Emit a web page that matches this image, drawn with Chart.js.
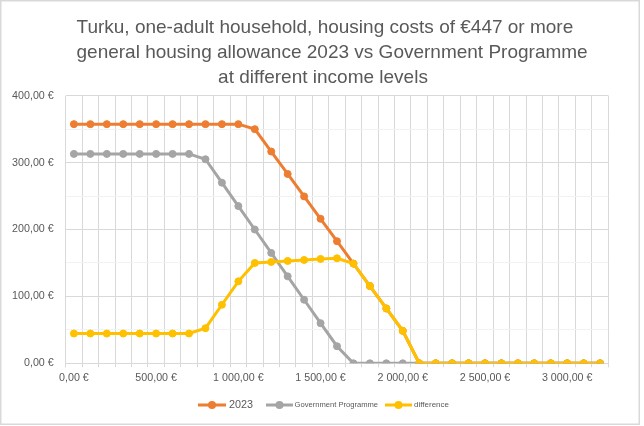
<!DOCTYPE html>
<html>
<head>
<meta charset="utf-8">
<script src="https://cdn.jsdelivr.net/npm/chart.js@4.4.1/dist/chart.umd.min.js"></script>
<style>
  html, body { margin: 0; padding: 0; background: #fff; }
  #wrap { position: relative; width: 644px; height: 426px; }
</style>
</head>
<body>
<div id="wrap"><canvas id="chart"></canvas></div>
<script>
const incomes = [0, 100, 200, 300, 400, 500, 600, 700, 800, 900, 1000, 1100, 1200, 1300, 1400, 1500, 1600,
  1700, 1800, 1900, 2000, 2100, 2200, 2300, 2400, 2500, 2600, 2700, 2800, 2900, 3000, 3100, 3200];
const allowance2023 = [357.5, 357.5, 357.5, 357.5, 357.5, 357.5, 357.5, 357.5, 357.5, 357.5, 357.5, 350, 316.5,
  283, 249.5, 216, 182.5, 149, 115.5, 82, 48.5, 0, 0, 0, 0, 0, 0, 0, 0, 0, 0, 0, 0];
const governmentProgramme = [313, 313, 313, 313, 313, 313, 313, 313, 305, 270, 235, 200, 165, 130, 95, 60, 25.5,
  0, 0, 0, 0, 0, 0, 0, 0, 0, 0, 0, 0, 0, 0, 0, 0];
const difference = [44.5, 44.5, 44.5, 44.5, 44.5, 44.5, 44.5, 44.5, 52.5, 87.5, 122.5, 150, 151.5, 153, 154.5,
  156, 157, 149, 115.5, 82, 48.5, 0, 0, 0, 0, 0, 0, 0, 0, 0, 0, 0, 0];
const titleLines = [
  'Turku, one-adult household, housing costs of €447 or more',
  'general housing allowance 2023 vs Government Programme',
  'at different income levels',
];

const textColor = '#595959';
const gridColor = '#d9d9d9';

function euro(v) {
  const [whole, dec] = v.toFixed(2).split('.');
  return whole.replace(/\B(?=(\d{3})+(?!\d))/g, ' ') + ',' + dec + ' €';
}

const chartFrame = {
  id: 'chartFrame',
  beforeDraw(chart) {
    const { ctx } = chart;
    ctx.save();
    ctx.fillStyle = '#fff';
    ctx.fillRect(0, 0, chart.width, chart.height);
    ctx.strokeStyle = gridColor;
    ctx.lineWidth = 1.5;
    ctx.strokeRect(0.75, 0.75, 638.5, 423.5);
    ctx.restore();
  },
};

const excelTitle = {
  id: 'excelTitle',
  afterDraw(chart) {
    const { ctx } = chart;
    ctx.save();
    ctx.fillStyle = textColor;
    ctx.font = '19px "Liberation Sans", Arial, sans-serif';
    ctx.textBaseline = 'alphabetic';
    ctx.textAlign = 'left';
    ctx.fillText(titleLines[0], 76.5, 32.6);
    ctx.fillText(titleLines[1], 76.5, 58);
    ctx.textAlign = 'center';
    ctx.fillText(titleLines[2], 323, 83.2);
    ctx.restore();
  },
};

const excelLegend = {
  id: 'excelLegend',
  afterDraw(chart, args, options) {
    const { ctx } = chart;
    const y = options.y;
    ctx.save();
    chart.data.datasets.forEach((ds, i) => {
      const item = options.items[i];
      ctx.strokeStyle = ds.borderColor;
      ctx.lineWidth = 3;
      ctx.beginPath();
      ctx.moveTo(item.x1, y);
      ctx.lineTo(item.x2, y);
      ctx.stroke();
      ctx.fillStyle = ds.borderColor;
      ctx.beginPath();
      ctx.arc((item.x1 + item.x2) / 2, y, 4, 0, Math.PI * 2);
      ctx.fill();
      ctx.fillStyle = textColor;
      ctx.font = item.size + 'px "Liberation Sans", Arial, sans-serif';
      ctx.textBaseline = 'middle';
      ctx.textAlign = 'left';
      ctx.fillText(ds.label, item.tx, y);
    });
    ctx.restore();
  },
};

function lineSet(label, data, color, order) {
  return {
    label,
    data,
    order,
    borderColor: color,
    backgroundColor: color,
    borderWidth: 3,
    pointRadius: 3.5,
    pointBorderWidth: 1,
    pointBackgroundColor: color,
    pointBorderColor: color,
    tension: 0,
  };
}

new Chart(document.getElementById('chart'), {
  type: 'line',
  data: {
    labels: incomes,
    datasets: [
      lineSet('2023', allowance2023, '#ED7D31', 3),
      lineSet('Government Programme', governmentProgramme, '#A5A5A5', 2),
      lineSet('difference', difference, '#FFC000', 1),
    ],
  },
  options: {
    responsive: true,
    maintainAspectRatio: false,
    animation: false,
    layout: {
      padding: { top: 95.7, right: 35.7, left: 0, bottom: 0 },
    },
    scales: {
      x: {
        type: 'category',
        offset: true,
        grid: {
          offset: true,
          color: gridColor,
          tickLength: 4,
        },
        border: { color: gridColor },
        ticks: {
          autoSkip: false,
          maxRotation: 0,
          padding: 4,
          color: textColor,
          font: { size: 10.7, family: '"Liberation Sans", Arial, sans-serif' },
          callback: (value, index) => (index % 5 === 0 ? euro(incomes[index]) : ''),
        },
        afterFit(scale) {
          scale.height = 62.7;
        },
      },
      y: {
        min: 0,
        max: 400,
        grid: {
          drawTicks: false,
          color: (ctx) => (ctx.tick && ctx.tick.value % 100 === 0 ? gridColor : '#f2f2f2'),
        },
        border: { display: false },
        ticks: {
          stepSize: 50,
          padding: 12,
          color: textColor,
          font: { size: 10.7, family: '"Liberation Sans", Arial, sans-serif' },
          callback: (value) => (value % 100 === 0 ? euro(value) : ''),
        },
        afterFit(scale) {
          scale.width = 65.7;
        },
      },
    },
    plugins: {
      legend: { display: false },
      tooltip: { enabled: false },
      excelLegend: {
        y: 405,
        items: [
          { x1: 198, x2: 226, tx: 229, size: 10.8 },
          { x1: 266, x2: 293, tx: 294.5, size: 7.6 },
          { x1: 385, x2: 412, tx: 414, size: 8 },
        ],
      },
    },
    events: [],
  },
  plugins: [chartFrame, excelTitle, excelLegend],
});
</script>
</body>
</html>
